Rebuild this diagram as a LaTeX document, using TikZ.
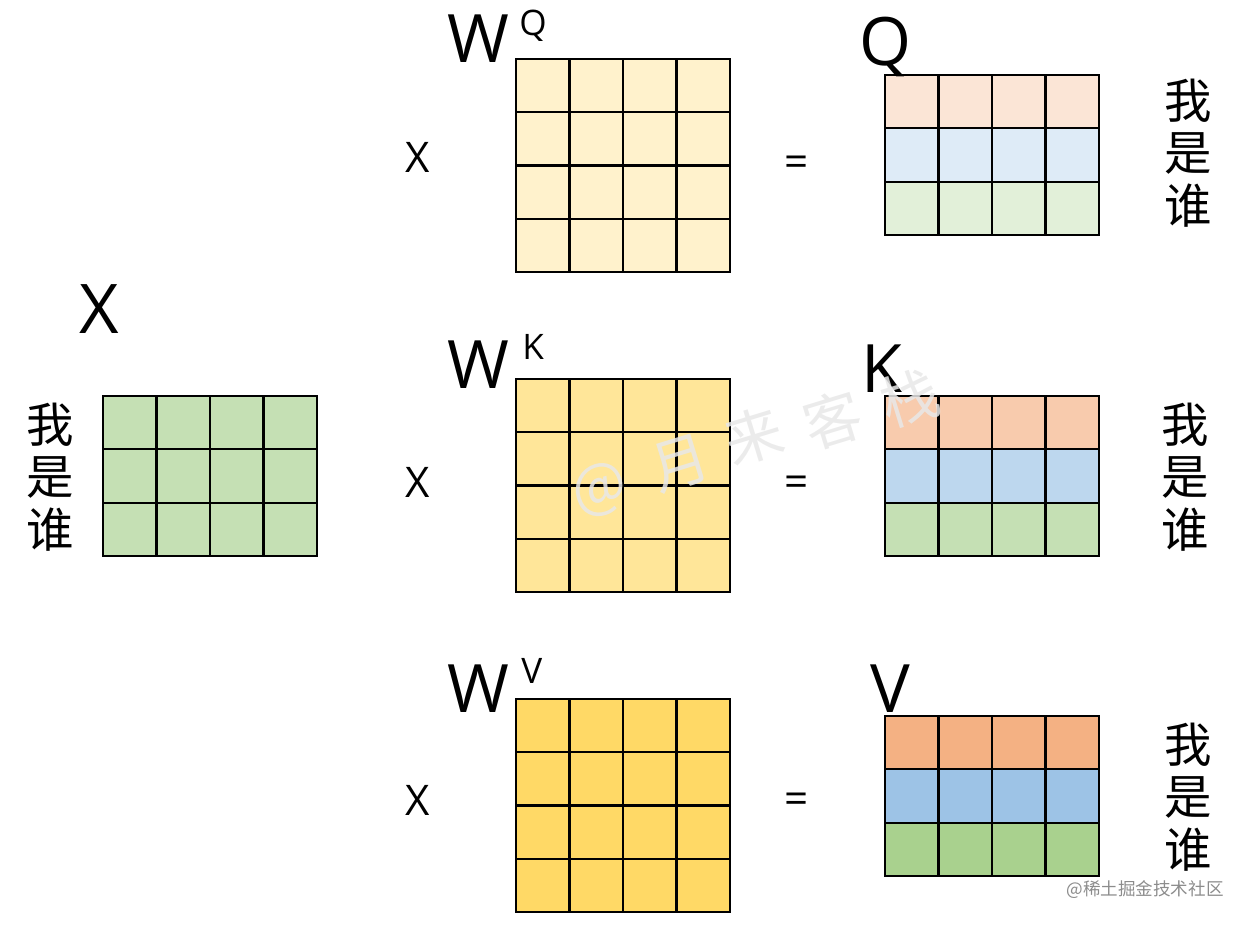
\documentclass[tikz,border=0pt]{standalone}
\usepackage{fontspec}
\setmainfont{Noto Sans CJK SC}
\newfontfamily\latinfont{Open Sans}
\usepackage{tikz}
\usetikzlibrary{positioning}
\definecolor{XAgreen}{RGB}{197,224,180}
\definecolor{WQyel}{RGB}{255,242,204}
\definecolor{WKyel}{RGB}{255,230,153}
\definecolor{WVyel}{RGB}{255,217,102}
\definecolor{Qrow1}{RGB}{251,229,214}
\definecolor{Qrow2}{RGB}{222,235,247}
\definecolor{Qrow3}{RGB}{226,240,217}
\definecolor{Krow1}{RGB}{248,203,173}
\definecolor{Krow2}{RGB}{189,215,238}
\definecolor{Krow3}{RGB}{197,224,180}
\definecolor{Vrow1}{RGB}{244,177,131}
\definecolor{Vrow2}{RGB}{157,195,230}
\definecolor{Vrow3}{RGB}{169,209,142}
\definecolor{WMgray}{RGB}{140,140,140}
\tikzset{
  cell/.style={draw=black,line width=1.2pt},
  bigletter/.style={font=\latinfont\fontsize{38}{40}\selectfont,anchor=base,inner sep=0pt},
  suplabel/.style={font=\latinfont\fontsize{20}{22}\selectfont,anchor=base west,inner sep=0pt},
  opsign/.style={font=\latinfont\fontsize{24}{26}\selectfont,inner sep=0pt},
  tokens/.style={font=\fontsize{27}{30}\selectfont,align=center,inner sep=0pt},
  stamp/.style={font=\fontsize{10}{12}\selectfont,text=WMgray,inner sep=0pt},
  faintmark/.style={font=\fontsize{33}{35}\selectfont,text=gray!18,opacity=0.85,inner sep=0pt}
}
\begin{document}
\begin{tikzpicture}[x=0.02cm,y=-0.02cm]
  \useasboundingbox (0,0) rectangle (1250,926);

  % input X
  \foreach \i in {0,...,3}
    \foreach \j in {0,...,2}
      \draw[cell,fill=XAgreen] (103+\i*53.5,396+\j*53.33) rectangle ++(53.5,53.33);
  \node[bigletter,font=\latinfont\fontsize{39}{40}\selectfont] (xlabel) at (99,333) {X};
  \node[tokens] (xtok) at (50,477) {我\\是\\谁};

  % weight matrices
  \foreach \wy/\wc in {59/WQyel,379/WKyel,699/WVyel}
    \foreach \i in {0,...,3}
      \foreach \j in {0,...,3}
        \draw[cell,fill=\wc] (516+\i*53.5,\wy+\j*53.25) rectangle ++(53.5,53.25);

  \node[bigletter] (wq) at (478,63) {W};
  \node[suplabel] (wqsup) at (519,36) {Q};
  \node[bigletter] (wk) at (478,388) {W};
  \node[suplabel] (wksup) at (522,359) {K};
  \node[bigletter] (wv) at (478,712) {W};
  \node[suplabel] (wvsup) at (521,683) {V};

  \node[opsign] (timesq) at (418,157) {X};
  \node[opsign] (timesk) at (418,482) {X};
  \node[opsign] (timesv) at (418,800) {X};
  \node[opsign] (eqq) at (797,166) {=};
  \node[opsign] (eqk) at (797,486) {=};
  \node[opsign] (eqv) at (797,803) {=};

  % outputs Q, K, V
  \foreach \c [count=\j from 0] in {Qrow1,Qrow2,Qrow3}
    \foreach \i in {0,...,3}
      \draw[cell,fill=\c] (885+\i*53.5,75+\j*53.33) rectangle ++(53.5,53.33);
  \foreach \c [count=\j from 0] in {Krow1,Krow2,Krow3}
    \foreach \i in {0,...,3}
      \draw[cell,fill=\c] (885+\i*53.5,396+\j*53.33) rectangle ++(53.5,53.33);
  \foreach \c [count=\j from 0] in {Vrow1,Vrow2,Vrow3}
    \foreach \i in {0,...,3}
      \draw[cell,fill=\c] (885+\i*53.5,716+\j*53.33) rectangle ++(53.5,53.33);

  \node[bigletter] (qlabel) at (885,66) {Q};
  \node[bigletter] (klabel) at (882,392) {K};
  \node[bigletter] (vlabel) at (890,712) {V};

  \node[tokens] (qtok) at (1188,153) {我\\是\\谁};
  \node[tokens] (ktok) at (1185,477) {我\\是\\谁};
  \node[tokens] (vtok) at (1188,797) {我\\是\\谁};

  % watermarks
  \foreach \ch/\px/\py [count=\k] in {@/600/490,月/680/463,来/754/436,客/833/420,栈/910/398}
    \node[faintmark,rotate=17] (mark\k) at (\px,\py) {\ch};
  \node[stamp] (site) at (1145,890) {@稀土掘金技术社区};
\end{tikzpicture}
\end{document}
